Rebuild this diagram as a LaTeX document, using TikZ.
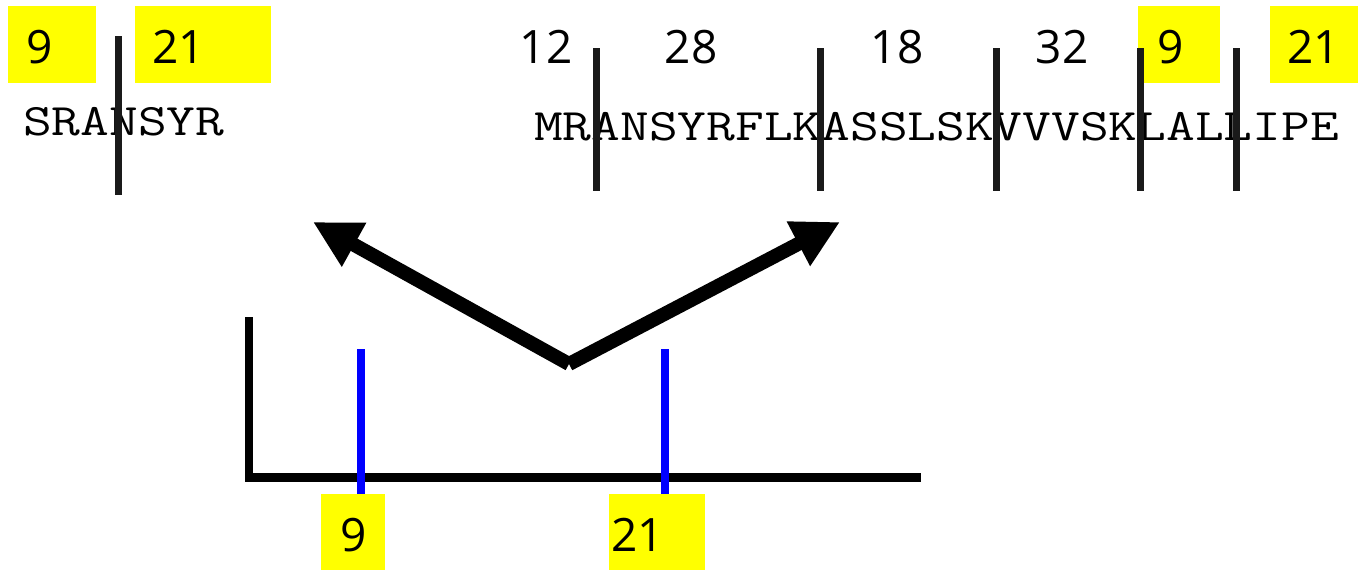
\documentclass[tikz,border=0pt]{standalone}
\usepackage{fontspec}
\setmainfont{Open Sans}
\usetikzlibrary{arrows.meta}
\definecolor{hiyellow}{RGB}{255,255,0}
\definecolor{peakblue}{RGB}{0,0,255}
\definecolor{bargray}{RGB}{26,26,26}
\begin{document}
\begin{tikzpicture}[x=1pt,y=-1pt,
  ybox/.style={fill=hiyellow, draw=none, inner sep=0pt},
  num/.style={font=\fontsize{46}{50}\selectfont, inner sep=0pt, anchor=base},
  seq/.style={font=\ttfamily\fontsize{45}{50}\selectfont, inner sep=0pt, anchor=base west},
  bar/.style={line width=7pt, draw=bargray},
  axisline/.style={line width=8pt, draw=black},
  peak/.style={line width=8pt, draw=peakblue},
  bigarrow/.style={line width=14pt, draw=black, -{Triangle[length=47pt,width=47pt]}}]
\useasboundingbox (0,0) rectangle (1358,570);
% yellow boxes
\node[ybox, minimum width=88pt, minimum height=77pt] (boxA) at (52,44.5) {};
\node[ybox, minimum width=136pt, minimum height=77pt] (boxB) at (203,44.5) {};
\node[ybox, minimum width=82pt, minimum height=77pt] (boxC) at (1179,44.5) {};
\node[ybox, minimum width=88pt, minimum height=77pt] (boxD) at (1314,44.5) {};
\node[ybox, minimum width=64pt, minimum height=76pt] (boxE) at (353,532) {};
\node[ybox, minimum width=96pt, minimum height=76pt] (boxF) at (657,532) {};
% numbers
\node[num] (nA) at (40,63) {9};
\node[num] (nB) at (178.5,63) {21};
\node[num] (nC) at (1170.5,63) {9};
\node[num] (nD) at (1313.5,63) {21};
\node[num] (nE) at (353.5,551) {9};
\node[num] (nF) at (637.5,551) {21};
\node[num] (n12) at (546,63) {12};
\node[num] (n28) at (691,63) {28};
\node[num] (n18) at (897,63) {18};
\node[num] (n32) at (1062,63) {32};
% sequences
\node[seq] (seqL) at (23,135) {\scalebox{1.24}[1]{SRANSYR}};
\node[seq] (seqR) at (534,140) {\scalebox{1.24}[1]{MRANSYRFLKASSLSKVVVSKLALLIPE}};
% cleavage bars
\draw[bar] (118,36) -- (118,195);
\draw[bar] (596,48) -- (596,191);
\draw[bar] (820,48) -- (820,191);
\draw[bar] (996,48) -- (996,191);
\draw[bar] (1140,48) -- (1140,191);
\draw[bar] (1236,48) -- (1236,191);
% spectrum axes
\coordinate (axTop) at (249,317);
\coordinate (axOrigin) at (249,477.5);
\coordinate (axEnd) at (921,477.5);
\draw[axisline] (axTop) -- (249,481.5);
\draw[axisline, line width=9pt] (axOrigin) -- (axEnd);
% peaks
\coordinate (p9top) at (361,349);
\coordinate (p21top) at (665,349);
\draw[peak] (p9top) -- (boxE.north -| p9top);
\draw[peak] (p21top) -- (boxF.north -| p21top);
% arrows
\coordinate (v) at (569,364);
\coordinate (tipL) at (313,222);
\coordinate (tipR) at (840,222);
\draw[bigarrow] (v) -- (tipL);
\draw[bigarrow] (v) -- (tipR);
\end{tikzpicture}
\end{document}
